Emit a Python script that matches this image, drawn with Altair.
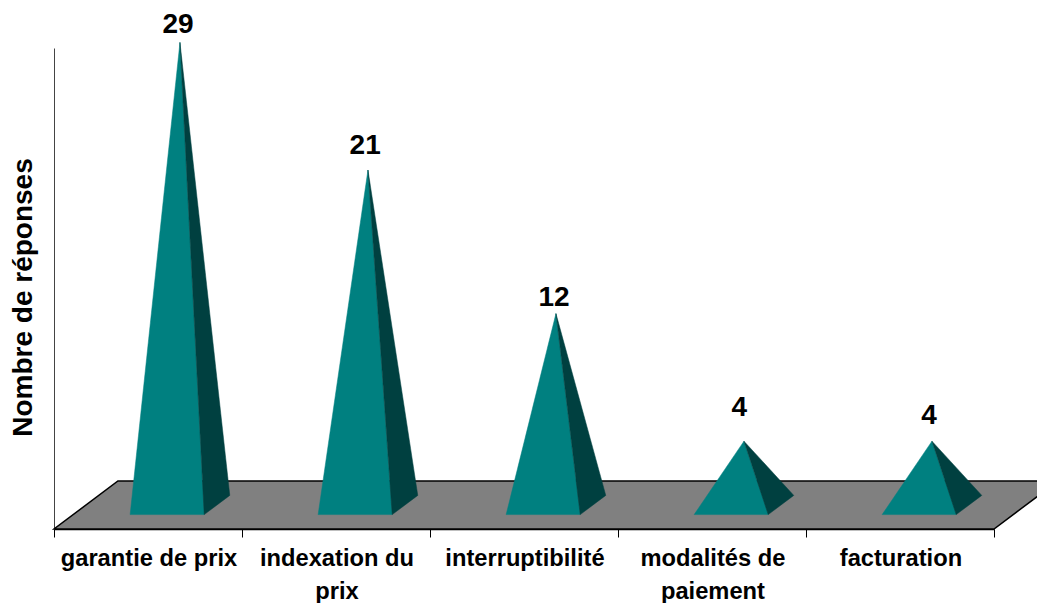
import altair as alt
import pandas as pd

categories = ["garantie de prix", "indexation du prix", "interruptibilité", "modalités de paiement", "facturation"]
label_lines = [["garantie de prix"], ["indexation du", "prix"], ["interruptibilité"], ["modalités de", "paiement"], ["facturation"]]
values = [29, 21, 12, 4, 4]
value_label_heights = [30.1, 22.5, 12.95, 6.05, 5.6]
value_label_shift = [-0.01, -0.015, -0.01, -0.025, -0.015]
tick_values = [0, 1, 2, 3, 4, 5]

# oblique projection of the floor depth, in axis units
DX, DY = 0.34, 3.01
Y_BASE = -1.505
HALF = 0.197
Y_MIN, Y_MAX = Y_BASE, 28.65
CAT_X_LABEL = 0.005


def project(x, depth, v=0.0):
    return x + DX * depth, (Y_BASE + DY * depth) if v == 0 else (Y_BASE + DY * depth + v)


floor = []
for i, (x, d) in enumerate([(0, 0), (5, 0), (5, 1), (0, 1)]):
    px, py = project(x, d)
    floor.append({"x": px, "y": py, "o": i})

front, side = [], []
for c, (name, v) in enumerate(zip(categories, values)):
    cx = c + 0.5
    corners_front = [project(cx - HALF, 0.30), project(cx + HALF, 0.30), project(cx, 0.5, v)]
    corners_side = [project(cx + HALF, 0.30), project(cx + HALF, 0.70), project(cx, 0.5, v)]
    for i, (px, py) in enumerate(corners_front):
        front.append({"cat": name, "x": px, "y": py, "o": i})
    for i, (px, py) in enumerate(corners_side):
        side.append({"cat": name, "x": px, "y": py, "o": i})

xs = alt.Scale(domain=[0, 5], nice=False, zero=False)
ys = alt.Scale(domain=[Y_MIN, Y_MAX], nice=False, zero=False)
x_axis = alt.Axis(values=tick_values, labels=False, title=None, grid=False, tickSize=8,
                  domainColor="black", tickColor="black", domainWidth=1.5)
y_axis = alt.Axis(title="Nombre de réponses", labels=False, ticks=False, grid=False,
                  domainColor="#444444", titleFont="Liberation Sans", titleFontSize=28,
                  titleFontWeight="bold", titleColor="black", titlePadding=17, titleY=249)
X = alt.X("x:Q", scale=xs, axis=x_axis)
Y = alt.Y("y:Q", scale=ys, axis=y_axis)


def poly(rows, fill, stroke, width=0.5):
    return alt.Chart(pd.DataFrame(rows)).mark_line(
        interpolate="linear-closed", fill=fill, stroke=stroke, strokeWidth=width
    ).encode(
        x=X,
        y=Y,
        order="o:Q",
        **({"detail": "cat:N"} if "cat" in rows[0] else {}),
    )


value_df = pd.DataFrame({
    "x": [i + 0.5 + DX * 0.5 + s for i, s in enumerate(value_label_shift)],
    "y": value_label_heights,
    "t": [str(v) for v in values],
})
value_text = alt.Chart(value_df).mark_text(
    font="Liberation Sans", fontSize=28, fontWeight="bold", color="black"
).encode(x=X, y=Y, text="t:N")

cat_df = pd.DataFrame({
    "x": [i + 0.5 + CAT_X_LABEL for i in range(5)],
    "y": [Y_MIN] * 5,
    "t": label_lines,
})
cat_text = alt.Chart(cat_df).mark_text(
    font="Liberation Sans", fontSize=23.7, fontWeight="bold", color="black",
    baseline="top", dy=18, lineHeight=33
).encode(x=X, y=Y, text="t")

chart = alt.layer(
    poly(floor, "#808080", "black", 1.5),
    poly(front, "#008080", "#008080"),
    poly(side, "#004040", "#004040"),
    value_text,
    cat_text,
).properties(
    width=940, height=481,
    padding={"left": 46, "top": 40, "right": 43, "bottom": 74},
    autosize=alt.AutoSizeParams(type="none"),
).configure_view(stroke=None)

chart.save("out.html", embed_options={"renderer": "svg", "actions": False})
